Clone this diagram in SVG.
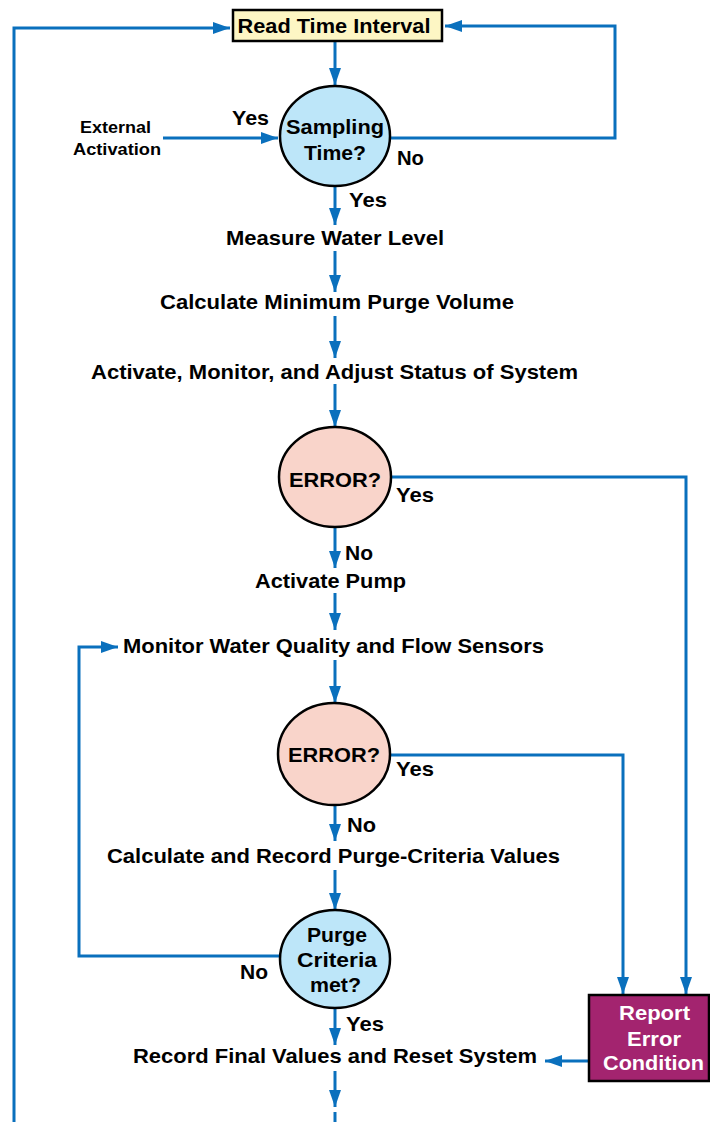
<svg xmlns="http://www.w3.org/2000/svg" width="710" height="1122" viewBox="0 0 710 1122">
<style>
.t{font-family:"Liberation Sans",Arial,sans-serif;font-weight:bold;font-size:21px;fill:#000}
.s{font-size:16px}
.w{fill:#fff}
.m{text-anchor:middle}
.c{fill:none;stroke:#0a70bd;stroke-width:3}
.rect{stroke:#000;stroke-width:2.5}
.ell{stroke:#000;stroke-width:2.5}
</style>
<defs>
<marker id="ah" markerUnits="userSpaceOnUse" markerWidth="18" markerHeight="12" refX="17" refY="6" orient="auto">
<path d="M0,0 L17,6 L0,12 z" fill="#0a70bd"/>
</marker>
</defs>
<rect width="710" height="1122" fill="#fff"/>
<g id="connectors">
<path class="c" d="M14,1122 V28 H230" marker-end="url(#ah)"/>
<path class="c" d="M390,138 H615 V26 H445" marker-end="url(#ah)"/>
<path class="c" d="M163,138 H278" marker-end="url(#ah)"/>
<path class="c" d="M335,42 V85" marker-end="url(#ah)"/>
<path class="c" d="M335,186 V225" marker-end="url(#ah)"/>
<path class="c" d="M335,251 V292" marker-end="url(#ah)"/>
<path class="c" d="M335,316 V358" marker-end="url(#ah)"/>
<path class="c" d="M335,384 V427" marker-end="url(#ah)"/>
<path class="c" d="M335,527 V568" marker-end="url(#ah)"/>
<path class="c" d="M335,593 V630" marker-end="url(#ah)"/>
<path class="c" d="M335,660 V703" marker-end="url(#ah)"/>
<path class="c" d="M335,805 V841" marker-end="url(#ah)"/>
<path class="c" d="M335,870 V910" marker-end="url(#ah)"/>
<path class="c" d="M335,1008 V1045" marker-end="url(#ah)"/>
<path class="c" d="M335,1071 V1107" marker-end="url(#ah)"/>
<path class="c" d="M335,1112 V1122"/>
<path class="c" d="M391,477 H686 V994" marker-end="url(#ah)"/>
<path class="c" d="M390,755 H623 V994" marker-end="url(#ah)"/>
<path class="c" d="M280,956 H79 V647 H118" marker-end="url(#ah)"/>
<path class="c" d="M589,1061 H545" marker-end="url(#ah)"/>
</g>
<g id="read-time">
<rect class="rect" x="233" y="10" width="209" height="31" fill="#fdf6c4"/>
<text class="t m" x="334" y="33" textLength="193" lengthAdjust="spacingAndGlyphs">Read Time Interval</text>
</g>
<g id="sampling">
<ellipse class="ell" cx="335" cy="136" rx="55" ry="50" fill="#bde6f9"/>
<text class="t m" x="335" y="134" textLength="98" lengthAdjust="spacingAndGlyphs">Sampling</text>
<text class="t m" x="335" y="160" textLength="62" lengthAdjust="spacingAndGlyphs">Time?</text>
</g>
<g id="external">
<text class="t s m" x="115.5" y="133" textLength="71" lengthAdjust="spacingAndGlyphs">External</text>
<text class="t s m" x="117" y="155" textLength="88" lengthAdjust="spacingAndGlyphs">Activation</text>
</g>
<g id="labels">
<text class="t" x="232" y="125" textLength="37" lengthAdjust="spacingAndGlyphs">Yes</text>
<text class="t" x="397" y="165" textLength="27" lengthAdjust="spacingAndGlyphs">No</text>
<text class="t" x="349" y="207" textLength="38" lengthAdjust="spacingAndGlyphs">Yes</text>
<text class="t" x="396" y="502" textLength="38" lengthAdjust="spacingAndGlyphs">Yes</text>
<text class="t" x="345" y="560" textLength="28" lengthAdjust="spacingAndGlyphs">No</text>
<text class="t" x="396" y="776" textLength="38" lengthAdjust="spacingAndGlyphs">Yes</text>
<text class="t" x="347" y="832" textLength="29" lengthAdjust="spacingAndGlyphs">No</text>
<text class="t" x="240" y="979" textLength="28" lengthAdjust="spacingAndGlyphs">No</text>
<text class="t" x="346" y="1031" textLength="38" lengthAdjust="spacingAndGlyphs">Yes</text>
</g>
<g id="measure"><text class="t m" x="335" y="245" textLength="218" lengthAdjust="spacingAndGlyphs">Measure Water Level</text></g>
<g id="calc-min"><text class="t m" x="337" y="309" textLength="354" lengthAdjust="spacingAndGlyphs">Calculate Minimum Purge Volume</text></g>
<g id="activate-monitor"><text class="t m" x="334.5" y="379" textLength="487" lengthAdjust="spacingAndGlyphs">Activate, Monitor, and Adjust Status of System</text></g>
<g id="error1">
<ellipse class="ell" cx="335" cy="477" rx="56" ry="50" fill="#f9d4ca"/>
<text class="t m" x="335" y="487" textLength="92" lengthAdjust="spacingAndGlyphs">ERROR?</text>
</g>
<g id="activate-pump"><text class="t m" x="330.5" y="588" textLength="151" lengthAdjust="spacingAndGlyphs">Activate Pump</text></g>
<g id="monitor-water"><text class="t m" x="333.5" y="653" textLength="421" lengthAdjust="spacingAndGlyphs">Monitor Water Quality and Flow Sensors</text></g>
<g id="error2">
<ellipse class="ell" cx="334" cy="754" rx="56" ry="51" fill="#f9d4ca"/>
<text class="t m" x="334" y="762" textLength="92" lengthAdjust="spacingAndGlyphs">ERROR?</text>
</g>
<g id="calc-record"><text class="t m" x="333.5" y="863" textLength="453" lengthAdjust="spacingAndGlyphs">Calculate and Record Purge-Criteria Values</text></g>
<g id="purge-criteria">
<ellipse class="ell" cx="335" cy="959" rx="55" ry="49" fill="#bde6f9"/>
<text class="t m" x="337" y="942" textLength="60" lengthAdjust="spacingAndGlyphs">Purge</text>
<text class="t m" x="337" y="967" textLength="80" lengthAdjust="spacingAndGlyphs">Criteria</text>
<text class="t m" x="335.5" y="992" textLength="51" lengthAdjust="spacingAndGlyphs">met?</text>
</g>
<g id="record-final"><text class="t m" x="335" y="1063" textLength="404" lengthAdjust="spacingAndGlyphs">Record Final Values and Reset System</text></g>
<g id="report-error">
<rect class="rect" x="589" y="995" width="120" height="86" fill="#a3246f"/>
<text class="t w m" x="654.5" y="1020" textLength="71" lengthAdjust="spacingAndGlyphs">Report</text>
<text class="t w m" x="654" y="1046" textLength="54" lengthAdjust="spacingAndGlyphs">Error</text>
<text class="t w m" x="653.5" y="1070" textLength="101" lengthAdjust="spacingAndGlyphs">Condition</text>
</g>
</svg>
